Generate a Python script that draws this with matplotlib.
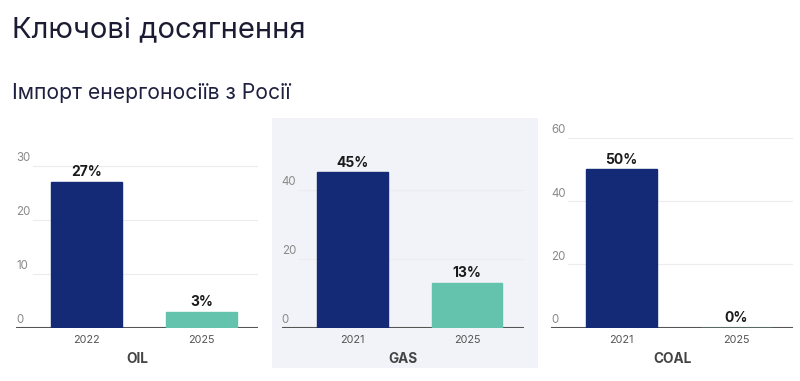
import matplotlib
matplotlib.use("Agg")
import matplotlib.pyplot as plt
from matplotlib.patches import Rectangle

plt.rcParams["font.family"] = ["Inter", "DejaVu Sans"]

# data
titles = ["OIL", "GAS", "COAL"]
years = [["2022", "2025"], ["2021", "2025"], ["2021", "2025"]]
values = [[27, 3], [45, 13], [50, 0]]
yticks = [[0, 10, 20, 30], [0, 20, 40], [0, 20, 40, 60]]
ymax = [32, 50, 60.5]

NAVY = "#142a77"
TEAL = "#64c3ad"
W, H = 800, 381

fig = plt.figure(figsize=(8, 3.81), dpi=100)

# shaded panel behind the middle chart
fig.patches.append(Rectangle((272 / W, 1 - 368 / H), 266 / W, 250 / H,
                             transform=fig.transFigure, facecolor="#f2f3f8",
                             edgecolor="none", zorder=-1))

fig.text(12 / W, 1 - 37 / H, "Ключові досягнення", fontsize=21, color="#1b1c33",
         va="baseline", ha="left")
fig.text(12 / W, 1 - 99 / H, "Імпорт енергоносіїв з Росії", fontsize=15.2,
         color="#1e2040", va="baseline", ha="left")

lefts = [16, 281.7, 551]
px_per_unit = [5.4, 3.45, 3.165]
base = 327.7

for i in range(3):
    h = ymax[i] * px_per_unit[i]
    ax = fig.add_axes([lefts[i] / W, 1 - base / H, 242 / W, h / H])
    ax.patch.set_alpha(0)
    x = [0, 1]
    bars = ax.bar(x, values[i], width=0.615, color=[NAVY, TEAL],
                  edgecolor=[NAVY, TEAL], linewidth=1.0, zorder=3)
    for b, v in zip(bars, values[i]):
        ax.annotate(f"{v}%", (b.get_x() + b.get_width() / 2, v),
                    xytext=(0, 2), textcoords="offset points", ha="center",
                    va="bottom", fontsize=10, fontweight="bold", color="#1a1a1a")
    ax.set_xlim(-0.615, 1.493)
    ax.set_ylim(0, ymax[i])
    for t in yticks[i]:
        if t > 0:
            ax.axhline(t, xmin=0.07, color="#ececef", lw=0.8, zorder=1)
        ax.text(0, t + 1.5 / px_per_unit[i], str(t), transform=ax.get_yaxis_transform(),
                ha="left", va="bottom", fontsize=8.3, color="#8a8a8a")
    ax.axhline(0, color="#555555", lw=1.5, zorder=2)
    for s in ax.spines.values():
        s.set_visible(False)
    ax.set_yticks([])
    ax.set_xticks(x)
    ax.set_xticklabels(years[i], fontsize=7.8, color="#555555")
    ax.tick_params(axis="x", length=0, pad=5)
    ax.set_xlabel(titles[i], fontsize=9.8, fontweight="bold", color="#444444", labelpad=5)

fig.savefig("out.png", dpi=100)
